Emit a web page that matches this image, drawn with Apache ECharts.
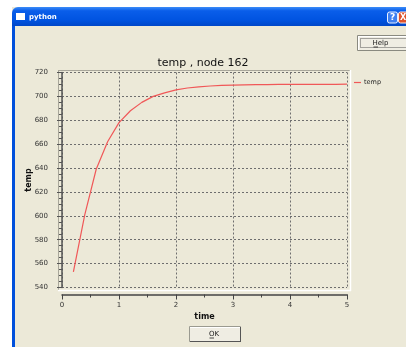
<!DOCTYPE html>
<html>
<head>
<meta charset="utf-8">
<script src="https://cdn.jsdelivr.net/npm/echarts@6/dist/echarts.min.js"></script>
<style>
html,body{margin:0;padding:0;background:#fff;}
#chart{width:406px;height:347px;}
</style>
</head>
<body>
<div id="chart"></div>
<script>
// ---- data ----
const chartTitle = 'temp , node 162';
const seriesName = 'temp';
const xName = 'time';
const yName = 'temp';
const times = [0.2, 0.4, 0.6, 0.8, 1.0, 1.2, 1.4, 1.6, 1.8, 2.0, 2.2, 2.4, 2.6, 2.8, 3.0, 3.2, 3.4, 3.6, 3.8, 4.0, 4.2, 4.4, 4.6, 4.8, 5.0];
const temps = [553, 601, 639, 662, 678, 688, 695, 700, 703, 705.5, 707, 708, 708.7, 709.2, 709.5, 709.7, 709.8, 709.9, 710, 710, 710, 710, 710.1, 710.1, 710.2];
const xTicks = [0, 1, 2, 3, 4, 5];
const yTicks = [540, 560, 580, 600, 620, 640, 660, 680, 700, 720];

const F = 'DejaVu Sans';
const chart = echarts.init(document.getElementById('chart'), null, {renderer: 'canvas'});

const chrome = [
  // outside area (white)
  {type: 'rect', shape: {x: 0, y: 0, width: 406, height: 7}, style: {fill: '#ffffff'}, silent: true},
  {type: 'rect', shape: {x: 0, y: 0, width: 12, height: 347}, style: {fill: '#ffffff'}, silent: true},
  // window title bar
  {type: 'rect', shape: {x: 12, y: 7, width: 394, height: 19, r: [6, 0, 0, 0]},
   style: {fill: new echarts.graphic.LinearGradient(0, 0, 0, 1, [
     {offset: 0, color: '#3C8CF8'}, {offset: 0.2, color: '#0A5EEA'},
     {offset: 0.7, color: '#0053E0'}, {offset: 1, color: '#0047C8'}])}, silent: true},
  {type: 'rect', shape: {x: 12, y: 26, width: 3, height: 321}, style: {fill: '#0050DC'}, silent: true},
  {type: 'rect', shape: {x: 16, y: 13, width: 9, height: 7}, style: {fill: '#ffffff'}, silent: true},
  {type: 'text', x: 29, y: 17, style: {text: 'python', fill: '#ffffff', font: 'bold 7px "DejaVu Sans"', verticalAlign: 'middle'}, silent: true},
  {type: 'rect', shape: {x: 387.5, y: 12, width: 10, height: 11, r: 2},
   style: {fill: '#3F7FF0', stroke: '#E8F0FF', lineWidth: 1}, silent: true},
  {type: 'text', x: 392.5, y: 17.5, style: {text: '?', fill: '#ffffff', font: 'bold 9px "DejaVu Sans"', align: 'center', verticalAlign: 'middle'}, silent: true},
  {type: 'rect', shape: {x: 398.5, y: 12, width: 10, height: 11, r: 2},
   style: {fill: '#E0522B', stroke: '#FFE8E0', lineWidth: 1}, silent: true},
  {type: 'text', x: 403, y: 17.5, style: {text: 'X', fill: '#ffffff', font: 'bold 8px "DejaVu Sans"', align: 'center', verticalAlign: 'middle'}, silent: true},
  // Help button
  {type: 'rect', shape: {x: 357.5, y: 35.5, width: 52, height: 15}, style: {fill: '#EFEDE3', stroke: '#8A8A80', lineWidth: 1}, silent: true},
  {type: 'line', shape: {x1: 358, y1: 36.5, x2: 406, y2: 36.5}, style: {stroke: '#ffffff', lineWidth: 1}, silent: true},
  {type: 'line', shape: {x1: 358.5, y1: 36, x2: 358.5, y2: 50}, style: {stroke: '#ffffff', lineWidth: 1}, silent: true},
  {type: 'rect', shape: {x: 360.5, y: 38.5, width: 46, height: 9}, style: {fill: 'none', stroke: '#555', lineWidth: 1, lineDash: [1, 1]}, silent: true},
  {type: 'text', x: 380.5, y: 43, style: {text: 'Help', fill: '#222', font: '7px "DejaVu Sans"', align: 'center', verticalAlign: 'middle'}, silent: true},
  {type: 'line', shape: {x1: 373.5, y1: 47, x2: 378, y2: 47}, style: {stroke: '#222', lineWidth: 0.8}, silent: true},
  // OK button
  {type: 'rect', shape: {x: 189.5, y: 326.5, width: 51, height: 15}, style: {fill: '#EFEDE3', stroke: '#9A9A90', lineWidth: 1}, silent: true},
  {type: 'line', shape: {x1: 190, y1: 327.5, x2: 240, y2: 327.5}, style: {stroke: '#ffffff', lineWidth: 1}, silent: true},
  {type: 'line', shape: {x1: 240.5, y1: 327, x2: 240.5, y2: 342}, style: {stroke: '#555', lineWidth: 1}, silent: true},
  {type: 'line', shape: {x1: 190, y1: 341.5, x2: 241, y2: 341.5}, style: {stroke: '#555', lineWidth: 1}, silent: true},
  {type: 'text', x: 214, y: 334, style: {text: 'OK', fill: '#222', font: '7px "DejaVu Sans"', align: 'center', verticalAlign: 'middle'}, silent: true},
  {type: 'line', shape: {x1: 209.5, y1: 338, x2: 214, y2: 338}, style: {stroke: '#222', lineWidth: 0.8}, silent: true},
  // plot frame (sunken)
  {type: 'line', shape: {x1: 58, y1: 70.5, x2: 351, y2: 70.5}, style: {stroke: '#A8A69A', lineWidth: 1}, silent: true},
  {type: 'line', shape: {x1: 58.5, y1: 70, x2: 58.5, y2: 291}, style: {stroke: '#A8A69A', lineWidth: 1}, silent: true},
  {type: 'line', shape: {x1: 58, y1: 290.5, x2: 351, y2: 290.5}, style: {stroke: '#ffffff', lineWidth: 1.5}, silent: true},
  {type: 'line', shape: {x1: 350.5, y1: 70, x2: 350.5, y2: 291}, style: {stroke: '#ffffff', lineWidth: 1.5}, silent: true}
];

const option = {
  backgroundColor: '#ECE9D8',
  animation: false,
  title: {
    text: chartTitle,
    left: 'center',
    top: 53,
    textStyle: {fontFamily: F, fontSize: 11, fontWeight: 'normal', color: '#111'}
  },
  legend: {
    data: [seriesName],
    left: 349,
    top: 74,
    icon: 'rect',
    itemWidth: 7,
    itemHeight: 1.2,
    itemGap: 2,
    textStyle: {fontFamily: F, fontSize: 6.5, color: '#222', padding: [0, 0, 0, -2]}
  },
  grid: {left: 62, right: 59, top: 72.5, bottom: 59.5, containLabel: false},
  xAxis: {
    type: 'value',
    min: xTicks[0],
    max: xTicks[xTicks.length - 1],
    interval: 1,
    offset: 7,
    name: xName,
    nameLocation: 'middle',
    nameGap: 18,
    nameMoveOverlap: false,
    nameTextStyle: {fontFamily: F, fontSize: 8, fontWeight: 'bold', color: '#111'},
    axisLine: {show: true, onZero: false, lineStyle: {color: '#444', width: 1.5}},
    axisTick: {show: true, inside: false, length: 5, lineStyle: {color: '#444'}},
    minorTick: {show: true, splitNumber: 2, length: 3, lineStyle: {color: '#444'}},
    axisLabel: {fontFamily: F, fontSize: 7, color: '#333', margin: 7},
    splitLine: {show: true, lineStyle: {color: '#6e6e6e', width: 1, type: [2, 2]}}
  },
  yAxis: {
    type: 'value',
    min: yTicks[0],
    max: yTicks[yTicks.length - 1],
    interval: 20,
    offset: 5,
    name: yName,
    nameLocation: 'middle',
    nameGap: 24,
    nameMoveOverlap: false,
    nameTextStyle: {fontFamily: F, fontSize: 8, fontWeight: 'bold', color: '#111'},
    axisLine: {show: true, lineStyle: {color: '#555', width: 1.5}},
    axisTick: {show: true, inside: false, length: 5, lineStyle: {color: '#555'}},
    minorTick: {show: true, splitNumber: 4, length: 3, lineStyle: {color: '#555'}},
    axisLabel: {fontFamily: F, fontSize: 7, color: '#333', margin: 9},
    splitLine: {show: true, lineStyle: {color: '#6e6e6e', width: 1, type: [2, 2]}}
  },
  series: [{
    name: seriesName,
    type: 'line',
    data: times.map((t, i) => [t, temps[i]]),
    symbol: 'none',
    smooth: false,
    lineStyle: {color: '#F05858', width: 1.2},
    itemStyle: {color: '#F05858'}
  }],
  graphic: chrome
};
chart.setOption(option);
</script>
</body>
</html>
